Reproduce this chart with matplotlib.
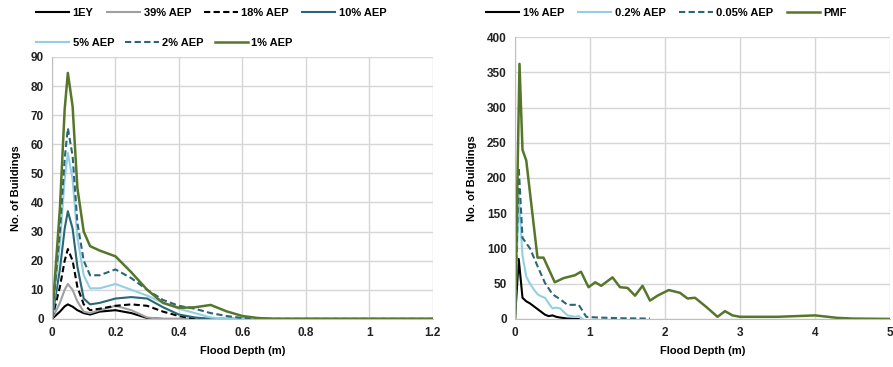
import numpy as np
import matplotlib
matplotlib.use('Agg')
import matplotlib.pyplot as plt

plt.rcParams['font.family'] = ['Liberation Sans', 'DejaVu Sans']
plt.rcParams['font.weight'] = 'bold'

# left chart: existing events
depth_l = [0, 0.025, 0.04, 0.05, 0.065, 0.08, 0.1, 0.12, 0.15, 0.2, 0.25, 0.3, 0.35,
           0.4, 0.45, 0.5, 0.55, 0.6, 0.65, 0.7, 1.2]
ey1 = [0, 2.5, 4.3, 5, 4.2, 3, 2, 1.5, 2.5, 3, 2, 0.3, 0, 0, 0, 0, 0, 0, 0, 0, 0]
aep39 = [0, 5.5, 10, 12, 10, 6, 2.5, 2, 3, 4.5, 3, 0.5, 0, 0, 0, 0, 0, 0, 0, 0, 0]
aep18 = [0, 11, 20, 24, 20, 11, 5, 3, 3.5, 4.5, 5, 4.5, 2.5, 1, 0, 0, 0, 0, 0, 0, 0]
aep10 = [0, 17, 31, 37, 31, 18, 7, 5, 5.5, 7, 7.5, 7, 4, 1.5, 0.5, 0, 0, 0, 0, 0, 0]
aep5 = [0, 26, 48, 57, 48, 28, 15, 10.5, 10.5, 12, 10, 8, 5.5, 3.5, 2, 0.5, 0, 0, 0, 0, 0]
aep2 = [0, 30, 55, 65.5, 56, 33, 20, 15, 15, 17, 14, 10, 6.5, 4.5, 3.5, 2, 1, 0.3, 0, 0, 0]
aep1_l = [0, 38, 72, 84.5, 73, 45, 30, 25, 23.5, 21.5, 16, 10, 5.5, 3.8, 4, 4.8, 2.6, 1,
          0.3, 0, 0]

# right chart: rare events
depth_r1 = [0, 0.05, 0.1, 0.15, 0.2, 0.25, 0.3, 0.35, 0.4, 0.45, 0.5, 0.55, 0.6, 0.7, 0.8, 0.85]
aep1_r = [0, 85, 30, 25, 22, 18, 14, 10, 6, 4, 5, 3, 2, 0.5, 0, 0]
depth_r2 = [0, 0.05, 0.1, 0.15, 0.2, 0.25, 0.3, 0.35, 0.4, 0.45, 0.5, 0.55, 0.6, 0.7, 0.8, 0.85, 0.9]
aep02 = [0, 175, 90, 60, 50, 42, 35, 32, 30, 22, 15, 16, 15, 5, 3, 4, 0]
depth_r3 = [0, 0.05, 0.1, 0.2, 0.3, 0.4, 0.5, 0.6, 0.7, 0.85, 0.95, 1.1, 1.4, 1.8]
aep005 = [0, 215, 115, 100, 75, 51, 35, 28, 20, 20, 3, 2, 1, 0.5]
depth_pmf = [0, 0.06, 0.1, 0.15, 0.3, 0.38, 0.53, 0.65, 0.8, 0.88, 0.98, 1.07, 1.15,
             1.3, 1.4, 1.5, 1.6, 1.7, 1.8, 1.9, 2.05, 2.2, 2.3, 2.4, 2.55, 2.7, 2.8,
             2.9, 3.0, 3.5, 4.0, 4.3, 4.5, 5.0]
pmf = [0, 362, 240, 225, 87, 87, 52, 58, 62, 67, 45, 52, 47,
       59, 45, 44, 33, 47, 26, 33, 41, 37, 29, 30, 17, 3, 11,
       5, 3, 3, 5, 1.5, 0.5, 0]

green = '#56762a'
teal = '#2b6576'
light = '#93cfe4'
grid = '#d6d6d6'

fig = plt.figure(figsize=(8.93, 3.67), dpi=100)
ax1 = fig.add_axes([0.0582, 0.131, 0.4266, 0.714])
ax2 = fig.add_axes([0.5767, 0.131, 0.42, 0.768])

l1, = ax1.plot(depth_l, ey1, color='black', lw=1.5, label='1EY')
l2, = ax1.plot(depth_l, aep39, color='#a0a0a0', lw=1.5, label='39% AEP')
l3, = ax1.plot(depth_l, aep18, color='black', lw=1.5, ls=(0, (3, 1.6)), label='18% AEP')
l4, = ax1.plot(depth_l, aep10, color=teal, lw=1.5, label='10% AEP')
l5, = ax1.plot(depth_l, aep5, color=light, lw=1.5, label='5% AEP')
l6, = ax1.plot(depth_l, aep2, color=teal, lw=1.5, ls=(0, (3, 1.6)), label='2% AEP')
l7, = ax1.plot(depth_l, aep1_l, color=green, lw=1.8, label='1% AEP')
ax1.set_xlim(0, 1.2)
ax1.set_ylim(0, 90)
ax1.set_xticks(np.arange(0, 1.21, 0.2))
ax1.set_xticklabels(['0', '0.2', '0.4', '0.6', '0.8', '1', '1.2'])
ax1.set_yticks(np.arange(0, 91, 10))

r1, = ax2.plot(depth_r1, aep1_r, color='black', lw=1.5, label='1% AEP')
r2, = ax2.plot(depth_r2, aep02, color=light, lw=1.5, label='0.2% AEP')
r3, = ax2.plot(depth_r3, aep005, color=teal, lw=1.5, ls=(0, (3, 1.6)), label='0.05% AEP')
r4, = ax2.plot(depth_pmf, pmf, color=green, lw=1.8, label='PMF')
ax2.set_xlim(0, 5)
ax2.set_ylim(0, 400)
ax2.set_xticks(range(0, 6))
ax2.set_yticks(range(0, 401, 50))

for ax in (ax1, ax2):
    ax.grid(True, color=grid, lw=1)
    ax.set_axisbelow(True)
    for s in ('top', 'right'):
        ax.spines[s].set_visible(False)
    for s in ('left', 'bottom'):
        ax.spines[s].set_color('#bfbfbf')
    ax.tick_params(length=0, pad=6, labelsize=8.5, colors='#222222')
    ax.set_ylabel('No. of Buildings', fontsize=8, fontweight='bold')
    ax.set_xlabel('Flood Depth (m)', fontsize=8, fontweight='bold', labelpad=5)

ax1.yaxis.set_label_coords(-0.082, 0.5)
ax2.yaxis.set_label_coords(-0.1, 0.5)

leg_kw = dict(frameon=False, fontsize=8, handlelength=3, handletextpad=0.3,
              borderaxespad=0, borderpad=0)
lg1 = fig.legend(handles=[l1, l2, l3, l4], ncol=4, columnspacing=1.2,
                 loc='center left', bbox_to_anchor=(36 / 893, 1 - 13 / 367), **leg_kw)
lg2 = fig.legend(handles=[l5, l6, l7], ncol=3, columnspacing=1.0,
                 loc='center left', bbox_to_anchor=(36 / 893, 1 - 43 / 367), **leg_kw)
lg3 = fig.legend(handles=[r1, r2, r3, r4], ncol=4, columnspacing=1.25,
                 loc='center left', bbox_to_anchor=(486 / 893, 1 - 13 / 367), **leg_kw)

fig.savefig('out.png', dpi=100)
